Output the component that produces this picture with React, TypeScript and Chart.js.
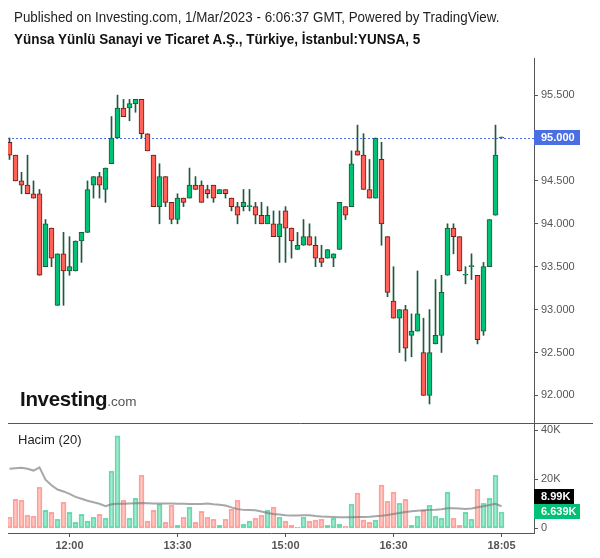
import React, { useEffect, useRef } from 'react';
import { Chart, registerables } from 'chart.js';

Chart.register(...registerables);

// ---- Data (5-minute candles, YUNSA) ----
const OPEN = [94.95, 94.80, 94.50, 94.45, 94.35, 94.35, 93.50, 93.95, 93.05, 93.65,
  93.45, 93.45, 93.80, 93.90, 94.45, 94.55, 94.40, 94.70, 95.00, 95.35,
  95.35, 95.40, 95.45, 95.05, 94.80, 94.20, 94.55, 94.25, 94.05, 94.30,
  94.30, 94.45, 94.45, 94.40, 94.45, 94.35, 94.40, 94.30, 94.20, 94.20,
  94.20, 94.20, 94.10, 94.00, 94.00, 93.85, 94.15, 93.95, 93.70, 93.75,
  93.85, 93.75, 93.60, 93.60, 93.60, 93.70, 94.20, 94.20, 94.85, 94.80,
  94.40, 94.30, 94.75, 93.85, 93.10, 92.90, 93.00, 92.70, 92.75, 92.50,
  92.00, 92.60, 92.70, 93.40, 93.95, 93.85, 93.40, 93.50, 93.40, 92.75,
  93.50, 94.10, 95.00];
const HIGH = [95.00, 94.80, 94.60, 94.80, 94.50, 94.40, 94.05, 93.95, 93.65, 93.90,
  93.85, 93.80, 93.90, 94.50, 94.55, 94.60, 94.65, 95.25, 95.50, 95.45,
  95.45, 95.45, 95.45, 95.05, 94.80, 94.70, 94.55, 94.25, 94.35, 94.30,
  94.65, 94.55, 94.50, 94.45, 94.45, 94.40, 94.40, 94.30, 94.25, 94.40,
  94.40, 94.25, 94.25, 94.20, 94.15, 94.15, 94.20, 93.95, 93.90, 94.05,
  94.00, 93.85, 93.75, 93.70, 93.65, 94.25, 94.20, 94.85, 95.15, 95.05,
  94.75, 95.00, 94.95, 93.85, 93.50, 93.00, 93.05, 92.95, 93.45, 92.90,
  93.00, 93.35, 93.40, 94.00, 94.00, 93.85, 93.50, 93.65, 93.40, 93.55,
  94.05, 95.15, 95.00];
const LOW = [94.75, 94.50, 94.35, 94.35, 94.30, 93.40, 93.50, 93.50, 93.05, 93.05,
  93.40, 93.45, 93.55, 93.90, 94.30, 94.30, 94.25, 94.70, 95.00, 95.25,
  95.20, 95.30, 95.00, 94.85, 94.20, 94.00, 94.20, 94.00, 94.00, 94.20,
  94.30, 94.40, 94.25, 94.30, 94.25, 94.35, 94.30, 94.15, 94.00, 94.15,
  94.15, 94.00, 94.00, 94.00, 93.85, 93.55, 93.55, 93.60, 93.70, 93.75,
  93.75, 93.50, 93.50, 93.60, 93.50, 93.70, 94.05, 94.20, 94.80, 94.40,
  94.30, 94.30, 93.75, 93.15, 92.90, 92.50, 92.40, 92.45, 92.75, 92.00,
  91.90, 92.60, 92.50, 93.40, 93.65, 93.45, 93.30, 93.35, 92.60, 92.70,
  93.50, 94.10, 95.00];
const CLOSE = [94.80, 94.50, 94.45, 94.35, 94.30, 93.40, 94.00, 93.60, 93.65, 93.45,
  93.50, 93.80, 93.90, 94.40, 94.55, 94.45, 94.65, 95.00, 95.35, 95.25,
  95.40, 95.45, 95.05, 94.85, 94.20, 94.55, 94.25, 94.05, 94.30, 94.25,
  94.45, 94.40, 94.25, 94.35, 94.30, 94.40, 94.35, 94.20, 94.10, 94.25,
  94.20, 94.10, 94.00, 94.10, 93.85, 94.00, 93.95, 93.80, 93.75, 93.85,
  93.75, 93.60, 93.55, 93.70, 93.65, 94.25, 94.10, 94.70, 94.80, 94.40,
  94.30, 95.00, 94.00, 93.20, 92.90, 93.00, 92.55, 92.75, 92.95, 92.00,
  92.50, 92.70, 93.20, 93.95, 93.85, 93.45, 93.40, 93.50, 92.65, 93.50,
  94.05, 94.80, 95.00];
const VOLUME = [4500, 11800, 11400, 5300, 4900, 16700, 7300, 6500, 3700, 10600,
  6500, 2400, 5700, 2900, 4500, 5700, 4100, 23300, 37600, 11400,
  4100, 12200, 21600, 2900, 7300, 9800, 2400, 9400, 1200, 4500,
  8600, 2400, 6900, 4500, 3700, 1200, 3700, 7800, 11400, 1600,
  2900, 4100, 5300, 7300, 8600, 4500, 2900, 1200, 400, 4500,
  2900, 3300, 3700, 1200, 4100, 1600, 800, 9800, 14300, 3300,
  2400, 3300, 17600, 11000, 14700, 10200, 11800, 1200, 4900, 7300,
  9400, 4900, 4100, 14700, 4100, 1200, 6500, 3700, 15900, 10200,
  12200, 21600, 6639];
const VOLUME_MA = [24200, 24400, 24600, 24200, 23500, 24800, 19800, 17500, 15800, 15000,
  14000, 12800, 12000, 11200, 10600, 10000, 9000, 9800, 10000, 10000,
  10100, 10200, 10300, 10200, 10100, 10100, 10100, 10100, 10000, 10000,
  9900, 9900, 9900, 10100, 9800, 9600, 9300, 8500, 7800, 7500,
  7400, 7300, 6800, 6200, 5800, 5600, 5300, 5200, 5200, 5300,
  5300, 5000, 4800, 4700, 4600, 4500, 4500, 4500, 4600, 4600,
  4700, 4900, 5100, 5400, 5800, 6200, 6600, 6900, 7100, 7300,
  7500, 7600, 7800, 8200, 8200, 8100, 7900, 8100, 8600, 9000,
  9500, 10000, 8990];

const TIME_IDX = [10, 28, 46, 64, 82];
const TIME_LABELS = ['12:00', '13:30', '15:00', '16:30', '18:05'];
const PRICE_TICKS = [92, 92.5, 93, 93.5, 94, 94.5, 95, 95.5];
const VOLUME_TICKS = [0, 20000, 40000];
const LAST_PRICE = 95.0;
const LAST_VOLUME = 6639;
const LAST_VOLUME_MA = 8990;

const FONT = '"Liberation Sans", Arial, sans-serif';
const AXIS_COLOR = '#555555';
const UP = '#00c176';
const DOWN = '#ff6158';
const UP_BORDER = '#1d5a3a';
const DOWN_BORDER = '#6a1f19';
const WICK = '#1f5a3d';
const BLUE = '#4a6fe3';

function fmtVol(v: number) {
  if (v === 0) return '0';
  return v / 1000 + 'K';
}

export default function App() {
  const ref = useRef<HTMLCanvasElement | null>(null);

  useEffect(() => {
    const idx = OPEN.map((_, i) => i);
    const up = idx.map((i) => CLOSE[i] >= OPEN[i]);

    const overlay = {
      id: 'overlay',
      beforeDatasetsDraw(chart: any) {
        const { ctx, chartArea } = chart;
        const y = chart.scales.y.getPixelForValue(LAST_PRICE);
        ctx.save();
        ctx.strokeStyle = BLUE;
        ctx.lineWidth = 1;
        ctx.setLineDash([2, 2]);
        ctx.beginPath();
        ctx.moveTo(chartArea.left, Math.round(y) + 0.5);
        ctx.lineTo(chartArea.right, Math.round(y) + 0.5);
        ctx.stroke();
        ctx.restore();
      },
      afterDraw(chart: any) {
        const { ctx, chartArea } = chart;
        const ys = chart.scales.y;
        const vs = chart.scales.v;
        ctx.save();
        ctx.strokeStyle = AXIS_COLOR;
        ctx.lineWidth = 1;
        ctx.beginPath();
        ctx.moveTo(chartArea.left, Math.round(vs.top) + 0.5);
        ctx.lineTo(593, Math.round(vs.top) + 0.5);
        ctx.stroke();

        const x0 = ys.left;
        ctx.font = 'bold 11px ' + FONT;
        ctx.textBaseline = 'middle';
        const box = (yc: number, w: number, bg: string, txt: string) => {
          ctx.fillStyle = bg;
          ctx.fillRect(x0, Math.round(yc - 7.5), w, 15);
          ctx.fillStyle = '#ffffff';
          ctx.fillText(txt, x0 + 7, Math.round(yc - 7.5) + 8);
        };
        const py = ys.getPixelForValue(LAST_PRICE);
        box(py, 46, BLUE, LAST_PRICE.toFixed(3));
        const vy = vs.getPixelForValue(LAST_VOLUME);
        box(vy, 46, UP, (LAST_VOLUME / 1000).toFixed(3) + 'K');
        box(vy - 15, 40, '#000000', (LAST_VOLUME_MA / 1000).toFixed(2) + 'K');
        ctx.restore();
      },
    };

    const chart = new Chart(ref.current as HTMLCanvasElement, {
      type: 'bar',
      data: {
        datasets: [
          {
            type: 'bar',
            label: 'body',
            data: idx.map((i) => ({ x: i, y: [OPEN[i], CLOSE[i]] })) as any,
            backgroundColor: idx.map((i) => (up[i] ? UP : DOWN)),
            borderColor: idx.map((i) => (up[i] ? UP_BORDER : DOWN_BORDER)),
            borderWidth: 1,
            borderSkipped: false,
            minBarLength: 1,
            barThickness: 5,
            grouped: false,
            xAxisID: 'x',
            yAxisID: 'y',
            order: 0,
          },
          {
            type: 'bar',
            label: 'wick',
            data: idx.map((i) => ({ x: i, y: [LOW[i], HIGH[i]] })) as any,
            backgroundColor: WICK,
            borderWidth: 0,
            minBarLength: 1,
            barThickness: 1,
            grouped: false,
            xAxisID: 'x',
            yAxisID: 'y',
            order: 1,
          },
          {
            type: 'line',
            label: 'ma',
            data: idx.map((i) => ({ x: i, y: VOLUME_MA[i] })),
            borderColor: 'rgba(120,120,120,0.65)',
            borderWidth: 2,
            pointRadius: 0,
            tension: 0,
            xAxisID: 'x',
            yAxisID: 'v',
            order: 2,
          } as any,
          {
            type: 'bar',
            label: 'volume',
            data: idx.map((i) => ({ x: i, y: VOLUME[i] })),
            backgroundColor: idx.map((i) => (up[i] ? 'rgba(0,193,118,0.35)' : 'rgba(255,97,88,0.35)')),
            borderColor: idx.map((i) => (up[i] ? 'rgba(0,193,118,0.55)' : 'rgba(255,97,88,0.55)')),
            borderWidth: 1,
            borderSkipped: false,
            barThickness: 5,
            grouped: false,
            xAxisID: 'x',
            yAxisID: 'v',
            order: 3,
          },
        ],
      },
      options: {
        responsive: false,
        animation: false,
        devicePixelRatio: 1,
        layout: { padding: { top: 58, left: 8, right: 0, bottom: 0 } },
        plugins: { legend: { display: false }, tooltip: { enabled: false }, title: { display: false } },
        scales: {
          x: {
            type: 'linear',
            position: 'bottom',
            offset: false,
            bounds: 'data',
            min: -0.25,
            max: 87.4167,
            grid: { display: true, offset: false, drawOnChartArea: false, drawTicks: true, tickLength: 4, color: AXIS_COLOR },
            border: { display: true, color: AXIS_COLOR },
            ticks: {
              autoSkip: false,
              maxRotation: 0,
              padding: 2,
              color: AXIS_COLOR,
              font: { family: FONT, size: 11, weight: 'bold' },
              callback: (v: any) => {
                const k = TIME_IDX.indexOf(Number(v));
                return k >= 0 ? TIME_LABELS[k] : '';
              },
            },
            afterBuildTicks: (s: any) => {
              s.ticks = TIME_IDX.map((v) => ({ value: v }));
            },
            afterFit: (s: any) => {
              s.height = 25;
            },
          },
          y: {
            type: 'linear',
            position: 'right',
            stack: 'panels',
            stackWeight: 365,
            min: 91.6783,
            max: 95.9324,
            grid: { display: true, drawOnChartArea: false, drawTicks: true, tickLength: 4, color: AXIS_COLOR },
            border: { display: true, color: AXIS_COLOR },
            ticks: {
              padding: 3,
              color: AXIS_COLOR,
              font: { family: FONT, size: 11 },
              callback: (v: any) => Number(v).toFixed(3),
            },
            afterBuildTicks: (s: any) => {
              s.ticks = PRICE_TICKS.map((v) => ({ value: v }));
            },
            afterFit: (s: any) => {
              s.width = 66;
            },
          },
          v: {
            type: 'linear',
            position: 'right',
            stack: 'panels',
            stackWeight: 110,
            min: -1910,
            max: 42850,
            grid: { display: true, drawOnChartArea: false, drawTicks: true, tickLength: 4, color: AXIS_COLOR },
            border: { display: true, color: AXIS_COLOR },
            ticks: {
              padding: 3,
              color: AXIS_COLOR,
              font: { family: FONT, size: 11 },
              callback: (v: any) => fmtVol(Number(v)),
            },
            afterBuildTicks: (s: any) => {
              s.ticks = VOLUME_TICKS.map((v) => ({ value: v }));
            },
            afterFit: (s: any) => {
              s.width = 66;
            },
          },
        },
      } as any,
      plugins: [overlay],
    });
    return () => chart.destroy();
  }, []);

  return (
    <div style={{ position: 'fixed', left: 0, top: 0, width: 600, height: 558, background: '#ffffff', fontFamily: FONT, overflow: 'hidden' }}>
      <canvas ref={ref} width={600} height={558} style={{ position: 'absolute', left: 0, top: 0, width: 600, height: 558 }} />
      <div style={{ position: 'absolute', left: 14, top: 9, fontSize: 15, lineHeight: '15px', color: '#222', transform: 'scaleX(0.892)', transformOrigin: 'left top', whiteSpace: 'nowrap' }}>
        Published on Investing.com, 1/Mar/2023 - 6:06:37 GMT, Powered by TradingView.
      </div>
      <div style={{ position: 'absolute', left: 14, top: 31, fontSize: 15, lineHeight: '15px', fontWeight: 'bold', color: '#111', transform: 'scaleX(0.9)', transformOrigin: 'left top', whiteSpace: 'nowrap' }}>
        Yünsa Yünlü Sanayi ve Ticaret A.Ş., Türkiye, İstanbul:YUNSA, 5
      </div>
      <div style={{ position: 'absolute', left: 20, top: 388, whiteSpace: 'nowrap', lineHeight: '22px' }}>
        <span style={{ fontSize: 20.5, fontWeight: 'bold', color: '#141414', letterSpacing: '-0.3px' }}>Investing</span>
        <span style={{ fontSize: 13.5, color: '#555' }}>.com</span>
      </div>
      <div style={{ position: 'absolute', left: 18, top: 432, fontSize: 13, lineHeight: '15px', color: '#222', whiteSpace: 'nowrap' }}>
        Hacim (20)
      </div>
    </div>
  );
}
